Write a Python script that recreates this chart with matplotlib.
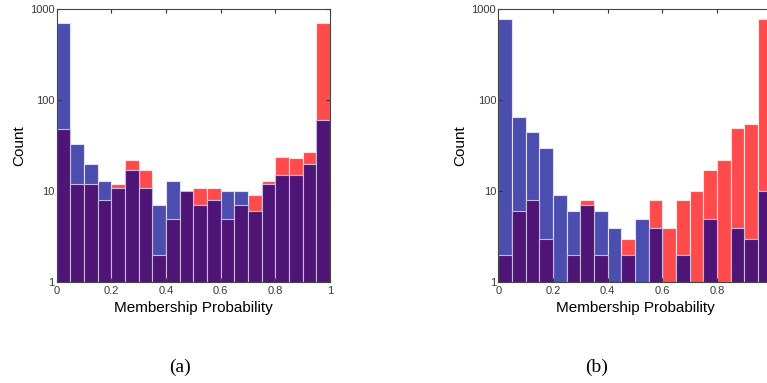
# Overlapping log-scale histograms of membership probability, panels (a) and (b)
import numpy as np
import matplotlib
matplotlib.use("Agg")
import matplotlib.pyplot as plt

# bin edges: 20 bins of width 0.05
edges = np.linspace(0, 1, 21)

# panel (a) counts
blue_a = [700, 33, 20, 13, 11, 17, 11, 7, 13, 10, 7, 8, 10, 10, 6, 12, 15, 15, 20, 60]
red_a = [48, 12, 12, 8, 12, 22, 17, 2, 5, 10, 11, 11, 5, 7, 9, 13, 24, 23, 27, 710]

# panel (b) counts
blue_b = [790, 66, 45, 30, 9, 6, 7, 6, 4, 2, 5, 4, 0, 2, 0, 5, 0, 4, 3, 10]
red_b = [2, 6, 8, 3, 0, 2, 8, 2, 0, 3, 0, 8, 4, 8, 10, 17, 22, 49, 55, 790]

captions = ["(a)", "(b)"]
xtick_labels = [['0', '0.2', '0.4', '0.6', '0.8', '1'],
                ['0', '0.2', '0.4', '0.6', '0.8', '']]  # panel (b) is cut at the right

blue_c = "#4b4daf"
red_c = "#ff4b4b"
purple_c = "#4e1577"

plt.rcParams['font.family'] = ['Liberation Sans', 'DejaVu Sans']

fig = plt.figure(figsize=(7.67, 3.83), dpi=100)

lefts = [56.7 / 767, 498.3 / 767]
cap_x = [180 / 767, 597 / 767]
w = 273.3 / 767
b = 1 - 282.3 / 383
h = (282.3 - 9.3) / 383

for i, (blue, red) in enumerate([(blue_a, red_a), (blue_b, red_b)]):
    ax = fig.add_axes([lefts[i], b, w, h])
    blue = np.array(blue)
    red = np.array(red)
    both = np.minimum(blue, red)
    x = edges[:-1]
    bw = edges[1] - edges[0]
    ax.bar(x, red, width=bw, align='edge', color=red_c, edgecolor='#ffe0e0', linewidth=0.8)
    ax.bar(x, blue, width=bw, align='edge', color=blue_c, edgecolor='#e0e0f8', linewidth=0.8)
    ax.bar(x, both, width=bw, align='edge', color=purple_c, edgecolor='#c8b8e0', linewidth=0.8)
    ax.set_yscale('log')
    ax.set_ylim(1, 1000)
    ax.set_xlim(0, 1)
    ax.set_xticks([0, 0.2, 0.4, 0.6, 0.8, 1])
    ax.set_xticklabels(xtick_labels[i])
    ax.set_yticks([1, 10, 100, 1000])
    ax.set_yticklabels(['1', '10', '100', '1000'])
    ax.minorticks_off()
    ax.tick_params(direction='in', top=True, right=True, length=3, width=0.8,
                   labelsize=8, labelcolor='#3a3a3a', color='#333333')
    ax.tick_params(axis='x', pad=3)
    ax.tick_params(axis='y', pad=1.5)
    for s in ax.spines.values():
        s.set_color('#444444')
        s.set_linewidth(0.8)
    ax.set_xlabel('Membership Probability', fontsize=11, labelpad=3)
    ax.set_ylabel('Count', fontsize=11, labelpad=3)
    fig.text(cap_x[i], 0.04, captions[i], ha='center', va='center',
             fontsize=14, family=['Liberation Serif', 'DejaVu Serif'])

fig.savefig('out.png', dpi=100)
